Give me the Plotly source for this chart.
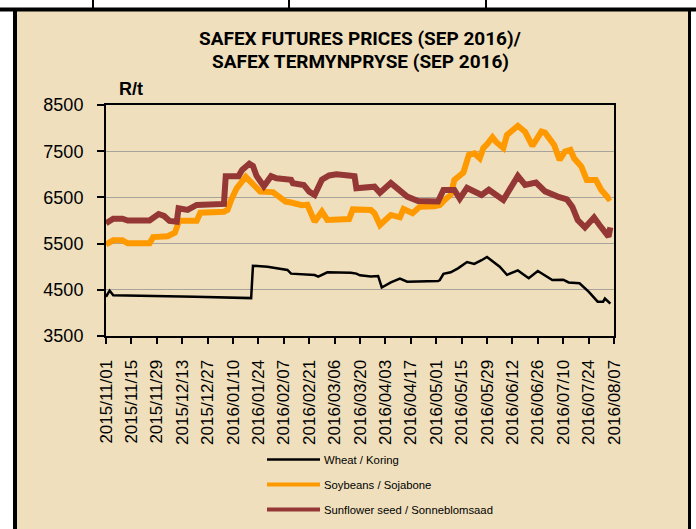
import plotly.graph_objects as go

TITLE_1 = "SAFEX FUTURES PRICES (SEP 2016)/"
TITLE_2 = "SAFEX TERMYNPRYSE (SEP 2016)"
Y_UNIT = "R/t"

TICK_LABELS = ["2015/11/01", "2015/11/15", "2015/11/29", "2015/12/13", "2015/12/27",
               "2016/01/10", "2016/01/24", "2016/02/07", "2016/02/21", "2016/03/06",
               "2016/03/20", "2016/04/03", "2016/04/17", "2016/05/01", "2016/05/15",
               "2016/05/29", "2016/06/12", "2016/06/26", "2016/07/10", "2016/07/24",
               "2016/08/07"]
Y_TICKS = [3500, 4500, 5500, 6500, 7500, 8500]

WHEAT = [("2015-11-01", 4350), ("2015-11-03", 4480), ("2015-11-05", 4380), ("2015-11-25", 4370),
         ("2015-12-20", 4350), ("2016-01-20", 4320), ("2016-01-21", 5020), ("2016-01-29", 5000),
         ("2016-02-05", 4950), ("2016-02-09", 4930), ("2016-02-11", 4850), ("2016-02-24", 4820),
         ("2016-02-26", 4785), ("2016-03-02", 4878), ("2016-03-15", 4870), ("2016-03-18", 4850),
         ("2016-03-20", 4813), ("2016-03-26", 4790), ("2016-03-30", 4800), ("2016-04-01", 4550),
         ("2016-04-06", 4660), ("2016-04-11", 4740), ("2016-04-15", 4676), ("2016-05-02", 4690),
         ("2016-05-03", 4712), ("2016-05-05", 4845), ("2016-05-09", 4880), ("2016-05-13", 4965),
         ("2016-05-18", 5100), ("2016-05-22", 5060), ("2016-05-26", 5140), ("2016-05-29", 5210),
         ("2016-06-05", 5001), ("2016-06-09", 4825), ("2016-06-15", 4920), ("2016-06-21", 4750),
         ("2016-06-26", 4907), ("2016-07-04", 4712), ("2016-07-10", 4720), ("2016-07-13", 4660),
         ("2016-07-19", 4640), ("2016-07-24", 4460), ("2016-07-29", 4243), ("2016-08-01", 4243),
         ("2016-08-02", 4310), ("2016-08-05", 4200)]

SOYBEANS = [("2015-11-01", 5480), ("2015-11-05", 5570), ("2015-11-10", 5570), ("2015-11-13", 5506),
            ("2015-11-25", 5506), ("2015-11-27", 5640), ("2015-12-05", 5660), ("2015-12-09", 5737),
            ("2015-12-11", 5960), ("2015-12-12", 5997), ("2015-12-21", 5997), ("2015-12-23", 6170),
            ("2016-01-05", 6190), ("2016-01-07", 6230), ("2016-01-09", 6444), ("2016-01-12", 6697),
            ("2016-01-17", 6945), ("2016-01-21", 6805), ("2016-01-25", 6625), ("2016-02-01", 6615),
            ("2016-02-05", 6480), ("2016-02-08", 6410), ("2016-02-11", 6390), ("2016-02-17", 6330),
            ("2016-02-20", 6340), ("2016-02-24", 5975), ("2016-02-28", 6192), ("2016-03-02", 6011),
            ("2016-03-14", 6030), ("2016-03-16", 6240), ("2016-03-26", 6228), ("2016-03-28", 6156),
            ("2016-03-31", 5903), ("2016-04-06", 6120), ("2016-04-11", 6069), ("2016-04-13", 6250),
            ("2016-04-18", 6156), ("2016-04-22", 6300), ("2016-04-30", 6310), ("2016-05-03", 6336),
            ("2016-05-05", 6420), ("2016-05-09", 6560), ("2016-05-11", 6877), ("2016-05-16", 7040),
            ("2016-05-19", 7420), ("2016-05-22", 7455), ("2016-05-25", 7347), ("2016-05-27", 7570),
            ("2016-05-29", 7650), ("2016-06-01", 7800), ("2016-06-03", 7700), ("2016-06-07", 7570),
            ("2016-06-09", 7850), ("2016-06-15", 8050), ("2016-06-19", 7920), ("2016-06-23", 7614),
            ("2016-06-28", 7924), ("2016-06-30", 7902), ("2016-07-05", 7635), ("2016-07-08", 7310),
            ("2016-07-11", 7491), ("2016-07-14", 7527), ("2016-07-16", 7347), ("2016-07-20", 7166),
            ("2016-07-23", 6877), ("2016-07-28", 6877), ("2016-07-31", 6661), ("2016-08-04", 6480),
            ("2016-08-05", 6503)]

SUNFLOWER = [("2015-11-01", 5940), ("2015-11-05", 6040), ("2015-11-10", 6040), ("2015-11-13", 6000),
             ("2015-11-25", 6000), ("2015-11-30", 6141), ("2015-12-03", 6098), ("2015-12-06", 5990),
             ("2015-12-10", 5975), ("2015-12-11", 6264), ("2015-12-16", 6228), ("2015-12-21", 6336),
             ("2016-01-05", 6358), ("2016-01-06", 6960), ("2016-01-13", 6960), ("2016-01-15", 7094),
             ("2016-01-19", 7230), ("2016-01-21", 7180), ("2016-01-23", 6964), ("2016-01-27", 6740),
             ("2016-01-31", 6960), ("2016-02-03", 6914), ("2016-02-11", 6880), ("2016-02-12", 6805),
             ("2016-02-18", 6769), ("2016-02-21", 6625), ("2016-02-24", 6553), ("2016-02-28", 6885),
             ("2016-03-03", 6975), ("2016-03-07", 7000), ("2016-03-15", 6970), ("2016-03-17", 6960),
             ("2016-03-18", 6697), ("2016-03-28", 6733), ("2016-03-31", 6600), ("2016-04-06", 6810),
             ("2016-04-15", 6517), ("2016-04-21", 6420), ("2016-05-02", 6410), ("2016-05-05", 6661),
             ("2016-05-11", 6661), ("2016-05-14", 6470), ("2016-05-18", 6705), ("2016-05-26", 6553),
             ("2016-05-30", 6665), ("2016-06-07", 6444), ("2016-06-15", 6965), ("2016-06-19", 6769),
             ("2016-06-25", 6820), ("2016-06-30", 6630), ("2016-07-07", 6517), ("2016-07-12", 6460),
             ("2016-07-15", 6300), ("2016-07-18", 6011), ("2016-07-22", 5850), ("2016-07-27", 6065),
             ("2016-07-30", 5903), ("2016-08-03", 5700), ("2016-08-04", 5650), ("2016-08-05", 5850)]

SERIES = [
    ("Wheat / Koring", WHEAT, "#000000", 2.5, 2.5),
    ("Soybeans / Sojabone", SOYBEANS, "#FF9900", 6, 4),
    ("Sunflower seed / Sonneblomsaad", SUNFLOWER, "#953735", 6, 4),
]

FONT = "Liberation Sans, Arial, sans-serif"
TITLE_FONT = "Roboto, Liberation Sans, Arial, sans-serif"
PARCHMENT = "#EFDFBD"

W, H = 696, 529
ML, MR, MT, MB = 106, 82, 105, 193
PW, PH = W - ML - MR, H - MT - MB


def px(x):
    return (x - ML) / PW


def py(y):
    return (H - MB - y) / PH


fig = go.Figure()
for name, pts, color, width, lw in SERIES:
    fig.add_trace(go.Scatter(x=[p[0] for p in pts], y=[p[1] for p in pts], mode="lines",
                             name=name, line=dict(color=color, width=width),
                             showlegend=False, hoverinfo="skip"))

shapes = [
    dict(type="rect", xref="paper", yref="paper", x0=px(0), x1=px(W), y0=py(0), y1=py(9),
         fillcolor="white", line=dict(width=0), layer="above"),
    dict(type="rect", xref="paper", yref="paper", x0=px(0), x1=px(14), y0=py(0), y1=py(H),
         fillcolor="white", line=dict(width=0), layer="above"),
    dict(type="rect", xref="paper", yref="paper", x0=px(690), x1=px(W), y0=py(0), y1=py(H),
         fillcolor="white", line=dict(width=0), layer="above"),
    dict(type="line", xref="paper", yref="paper", x0=px(0), x1=px(W), y0=py(9.5), y1=py(9.5),
         line=dict(color="black", width=4), layer="above"),
    dict(type="line", xref="paper", yref="paper", x0=px(15), x1=px(15), y0=py(8), y1=py(H + 5),
         line=dict(color="black", width=4), layer="above"),
    dict(type="line", xref="paper", yref="paper", x0=px(689.5), x1=px(689.5), y0=py(8), y1=py(H + 5),
         line=dict(color="black", width=3), layer="above"),
]
for vx in (93, 289, 486):
    shapes.append(dict(type="line", xref="paper", yref="paper", x0=px(vx), x1=px(vx),
                       y0=py(0), y1=py(9), line=dict(color="black", width=2), layer="above"))

annotations = [
    dict(text="<b>%s</b>" % TITLE_1, xref="paper", yref="paper", x=px(360), y=py(38.5),
         xanchor="center", yanchor="middle", showarrow=False,
         font=dict(family=TITLE_FONT, size=19, color="black")),
    dict(text="<b>%s</b>" % TITLE_2, xref="paper", yref="paper", x=px(360), y=py(61.5),
         xanchor="center", yanchor="middle", showarrow=False,
         font=dict(family=TITLE_FONT, size=19, color="black")),
    dict(text="<b>%s</b>" % Y_UNIT, xref="paper", yref="paper", x=px(117), y=py(89),
         xanchor="left", yanchor="middle", showarrow=False,
         font=dict(family=FONT, size=18, color="black")),
]

# legend (drawn as key lines + labels)
for i, (name, pts, color, width, lw) in enumerate(SERIES):
    ly = 459.5 + 25 * i
    shapes.append(dict(type="line", xref="paper", yref="paper", x0=px(267), x1=px(320),
                       y0=py(ly), y1=py(ly), line=dict(color=color, width=lw)))
    annotations.append(dict(text=name, xref="paper", yref="paper", x=px(322), y=py(ly),
                            xanchor="left", yanchor="middle", showarrow=False,
                            font=dict(family=FONT, size=11.3, color="black")))

fig.update_layout(
    width=W, height=H,
    margin=dict(l=ML, r=MR, t=MT, b=MB, pad=0),
    paper_bgcolor=PARCHMENT, plot_bgcolor="rgba(0,0,0,0)",
    shapes=shapes, annotations=annotations, showlegend=False,
    xaxis=dict(type="date", range=["2015-11-01", "2016-08-07"],
               tickvals=[t.replace("/", "-") for t in TICK_LABELS], ticktext=TICK_LABELS,
               tickangle=-90, ticks="outside", ticklen=6, tickwidth=1.5, tickcolor="black",
               ticklabelstandoff=9,
               showline=True, linewidth=2, linecolor="black", mirror=True, showgrid=False,
               zeroline=False, tickfont=dict(family=FONT, size=17, color="black")),
    yaxis=dict(range=[3500, 8500], tickvals=Y_TICKS, ticks="outside", ticklen=7, tickwidth=1.5,
               tickcolor="black", showline=True, linewidth=2, linecolor="black", mirror=True,
               ticklabelstandoff=10,
               showgrid=True, gridcolor="#A8A39A", gridwidth=1, zeroline=False,
               tickfont=dict(family=FONT, size=18, color="black")),
)

fig.write_html("out.html", config={"displayModeBar": False},
               post_script="document.body.style.margin='0px';")
